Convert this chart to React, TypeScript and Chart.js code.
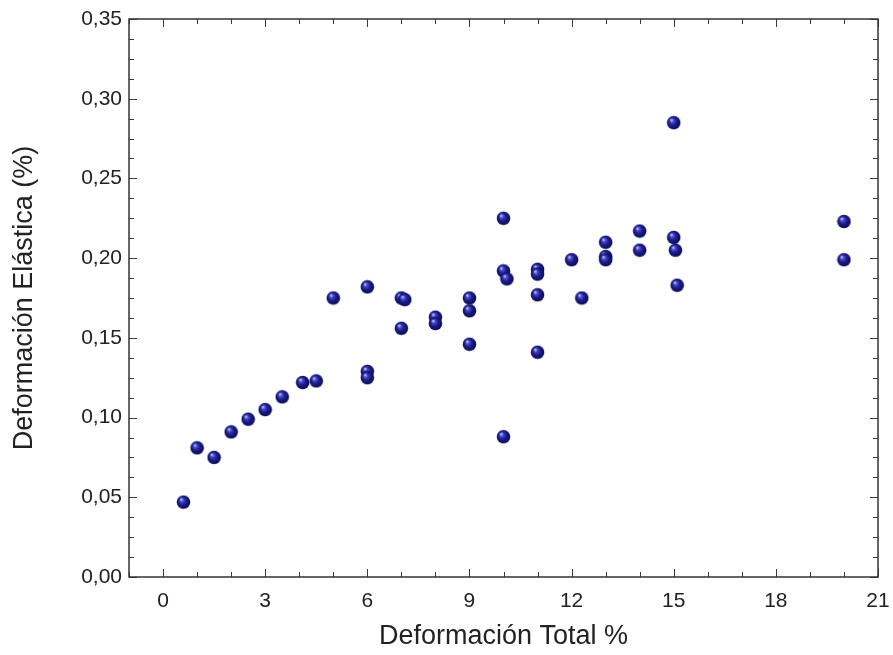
import React, { useEffect, useRef } from "react";
import { Chart, registerables } from "chart.js";

Chart.register(...registerables);

const xValues = [
  0.6, 1.0, 1.5, 2.0, 2.5, 3.0, 3.5, 4.1, 4.5, 5.0,
  6.0, 6.0, 6.0, 7.0, 7.1, 7.0, 8.0, 8.0, 9.0, 9.0,
  9.0, 10.0, 10.0, 10.1, 10.0, 11.0, 11.0, 11.0, 11.0, 12.0,
  12.3, 13.0, 13.0, 13.0, 14.0, 14.0, 15.0, 15.0, 15.05, 15.1,
  20.0, 20.0,
];
const yValues = [
  0.047, 0.081, 0.075, 0.091, 0.099, 0.105, 0.113, 0.122, 0.123, 0.175,
  0.182, 0.129, 0.125, 0.175, 0.174, 0.156, 0.163, 0.159, 0.175, 0.167,
  0.146, 0.225, 0.192, 0.187, 0.088, 0.193, 0.190, 0.177, 0.141, 0.199,
  0.175, 0.210, 0.201, 0.199, 0.217, 0.205, 0.285, 0.213, 0.205, 0.183,
  0.223, 0.199,
];

const xTicks = [0, 3, 6, 9, 12, 15, 18, 21];
const yTicks = [0, 0.05, 0.1, 0.15, 0.2, 0.25, 0.3, 0.35];
const xMinorStep = 1;
const yMinorStep = 0.0125;

const xTitle = "Deformación Total %";
const yTitle = "Deformación Elástica (%)";

const FONT = "'Liberation Sans', Arial, Helvetica, sans-serif";

function makeSphere(): HTMLCanvasElement {
  const s = 15;
  const c = document.createElement("canvas");
  c.width = s;
  c.height = s;
  const g = c.getContext("2d")!;
  const grad = g.createRadialGradient(5.2, 4.8, 0.5, 7.5, 7.5, 7.5);
  grad.addColorStop(0, "#b8c0ff");
  grad.addColorStop(0.18, "#4a50c8");
  grad.addColorStop(0.5, "#1c1c8c");
  grad.addColorStop(0.85, "#0e0e5e");
  grad.addColorStop(1, "#0a0a40");
  g.fillStyle = grad;
  g.beginPath();
  g.arc(7.5, 7.5, 6.8, 0, Math.PI * 2);
  g.fill();
  return c;
}

const boxTicksPlugin = {
  id: "boxTicks",
  afterDraw(chart: any) {
    const { ctx, chartArea } = chart;
    const { left, right, top, bottom } = chartArea;
    const xs = chart.scales.x;
    const ys = chart.scales.y;
    ctx.save();
    ctx.strokeStyle = "#3a3a3a";
    ctx.lineWidth = 1;
    ctx.beginPath();
    const major = 8;
    const minor = 5;
    for (let v = xs.min; v <= xs.max + 1e-9; v += xMinorStep) {
      const isMajor = xTicks.some((t) => Math.abs(t - v) < 1e-6);
      const len = isMajor ? major : minor;
      const px = Math.round(xs.getPixelForValue(v)) + 0.5;
      ctx.moveTo(px, bottom);
      ctx.lineTo(px, bottom - len);
      ctx.moveTo(px, top);
      ctx.lineTo(px, top + len);
    }
    for (let v = ys.min; v <= ys.max + 1e-9; v += yMinorStep) {
      const isMajor = yTicks.some((t) => Math.abs(t - v) < 1e-6);
      const len = isMajor ? major : minor;
      const py = Math.round(ys.getPixelForValue(v)) + 0.5;
      ctx.moveTo(left, py);
      ctx.lineTo(left + len, py);
      ctx.moveTo(right, py);
      ctx.lineTo(right - len, py);
    }
    ctx.stroke();
    ctx.lineWidth = 1.5;
    ctx.strokeStyle = "#333";
    ctx.strokeRect(left, top, right - left, bottom - top);
    ctx.restore();
  },
};

export default function App() {
  const ref = useRef<HTMLCanvasElement | null>(null);

  useEffect(() => {
    if (!ref.current) return;
    const sphere = makeSphere();
    const data = xValues.map((x, i) => ({ x, y: yValues[i] }));
    const chart = new Chart(ref.current, {
      type: "scatter",
      data: {
        datasets: [
          {
            data,
            pointStyle: sphere as any,
            pointRadius: 7,
            backgroundColor: "#1c1c8c",
          },
        ],
      },
      plugins: [boxTicksPlugin],
      options: {
        animation: false,
        responsive: false,
        maintainAspectRatio: false,
        layout: { padding: { top: 19, right: 15, left: 0, bottom: 0 } },
        plugins: {
          legend: { display: false },
          tooltip: { enabled: false },
        },
        scales: {
          x: {
            type: "linear",
            min: -1,
            max: 21,
            grid: { display: false, drawTicks: false },
            border: { display: false },
            afterBuildTicks: (scale: any) => {
              scale.ticks = xTicks.map((v) => ({ value: v }));
            },
            afterFit: (scale: any) => {
              scale.height = 78;
              scale.paddingLeft = 0;
              scale.paddingRight = 0;
            },
            ticks: {
              padding: 12,
              color: "#222",
              font: { family: FONT, size: 21 },
              maxRotation: 0,
              callback: (v: any) => String(v),
            },
            title: {
              display: true,
              text: xTitle,
              color: "#222",
              font: { family: FONT, size: 27 },
              padding: { top: 0, bottom: 2 },
            },
          },
          y: {
            type: "linear",
            min: 0,
            max: 0.35,
            grid: { display: false, drawTicks: false },
            border: { display: false },
            afterBuildTicks: (scale: any) => {
              scale.ticks = yTicks.map((v) => ({ value: v }));
            },
            afterFit: (scale: any) => {
              scale.width = 129;
              scale.paddingTop = 0;
              scale.paddingBottom = 0;
            },
            ticks: {
              padding: 7,
              color: "#222",
              font: { family: FONT, size: 21 },
              callback: (v: any) => Number(v).toFixed(2).replace(".", ","),
            },
            title: {
              display: true,
              text: yTitle,
              color: "#222",
              font: { family: FONT, size: 27 },
              padding: { top: 8, bottom: 0 },
            },
          },
        },
      },
    });
    return () => chart.destroy();
  }, []);

  return (
    <div style={{ position: "fixed", left: 0, top: 0, width: 893, height: 655, background: "#fff" }}>
      <canvas ref={ref} width={893} height={655} style={{ width: 893, height: 655, display: "block" }} />
    </div>
  );
}
